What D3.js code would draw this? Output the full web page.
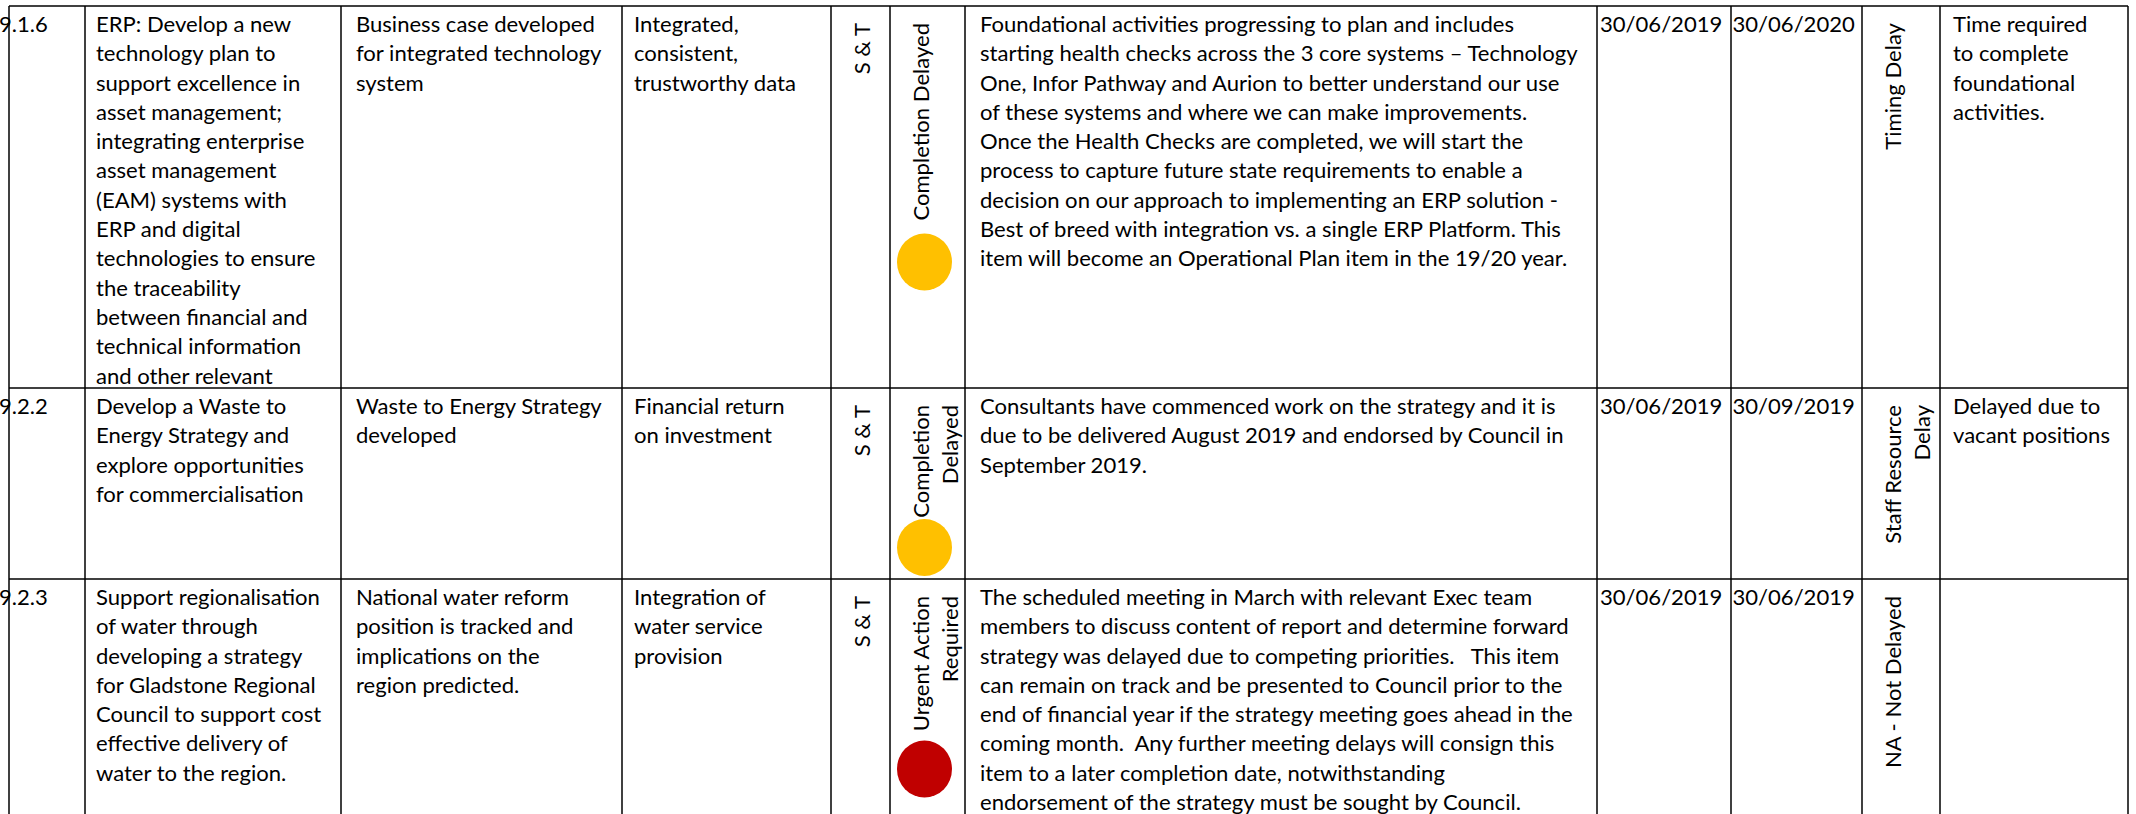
<!DOCTYPE html>
<html><head><meta charset="utf-8">
<script src="https://cdn.jsdelivr.net/npm/d3@7"></script>
<style>html,body{margin:0;padding:0;background:#fff;overflow:hidden}</style>
</head><body>
<svg id="chart" width="2136" height="814"></svg>
<script>
// ---------------- DATA ----------------
const itemIds = ["9.1.6", "9.2.2", "9.2.3"];
const actions = [
  ["ERP: Develop a new","technology plan to","support excellence in","asset management;","integrating enterprise","asset management","(EAM) systems with","ERP and digital","technologies to ensure","the traceability","between financial and","technical information","and other relevant"],
  ["Develop a Waste to","Energy Strategy and","explore opportunities","for commercialisation"],
  ["Support regionalisation","of water through","developing a strategy","for Gladstone Regional","Council to support cost","effective delivery of","water to the region."]
];
const outputs = [
  ["Business case developed","for integrated technology","system"],
  ["Waste to Energy Strategy","developed"],
  ["National water reform","position is tracked and","implications on the","region predicted."]
];
const measures = [
  ["Integrated,","consistent,","trustworthy data"],
  ["Financial return","on investment"],
  ["Integration of","water service","provision"]
];
const owners = ["S & T", "S & T", "S & T"];
const statusLabels = [["Completion Delayed"], ["Completion","Delayed"], ["Urgent Action","Required"]];
const statusLevels = ["amber", "amber", "red"];
const comments = [
  ["Foundational activities progressing to plan and includes","starting health checks across the 3 core systems \u2013 Technology","One, Infor Pathway and Aurion to better understand our use","of these systems and where we can make improvements.","Once the Health Checks are completed, we will start the","process to capture future state requirements to enable a","decision on our approach to implementing an ERP solution -","Best of breed with integration vs. a single ERP Platform. This","item will become an Operational Plan item in the 19/20 year."],
  ["Consultants have commenced work on the strategy and it is","due to be delivered August 2019 and endorsed by Council in","September 2019."],
  ["The scheduled meeting in March with relevant Exec team","members to discuss content of report and determine forward","strategy was delayed due to competing priorities.\u00a0\u00a0 This item","can remain on track and be presented to Council prior to the","end of financial year if the strategy meeting goes ahead in the","coming month.\u00a0 Any further meeting delays will consign this","item to a later completion date, notwithstanding","endorsement of the strategy must be sought by Council."]
];
const dueDates = ["30/06/2019", "30/06/2019", "30/06/2019"];
const revisedDates = ["30/06/2020", "30/09/2019", "30/06/2019"];
const delayReasons = [["Timing Delay"], ["Staff Resource","Delay"], ["NA - Not Delayed"]];
const delayNotes = [["Time required","to complete","foundational","activities."], ["Delayed due to","vacant positions"], []];

// ---------------- LAYOUT ----------------
const W = 2136, H = 814;
const colEdges = [9, 85, 341, 622, 831, 890, 965, 1597, 1731, 1862, 1940, 2128];
const rowEdges = [6, 388, 579, 840];
const textPad = [-10, 11, 15, 12, 0, 0, 15, 3, 1.5, 0, 13];
const circleDy = [256, 159.5, 190];
const statusColor = d3.scaleOrdinal().domain(["amber","red"]).range(["#FFC000","#C00000"]);
const FONT = "Lato, 'Liberation Sans', sans-serif";
const FS = 22;
const LINE = 29.3, FIRST = 26;

const svg = d3.select("#chart");
svg.append("rect").attr("width", W).attr("height", H).attr("fill", "#fff");

const colIdx = d3.range(colEdges.length - 1);
const x = d3.scaleOrdinal().domain(colIdx).range(colEdges.slice(0, -1));
const xr = d3.scaleOrdinal().domain(colIdx).range(colEdges.slice(1));
const rowY = d3.scaleOrdinal().domain(d3.range(itemIds.length)).range(rowEdges.slice(0, -1));

// calibrate font width to the reference (Calibri-like metrics)
const probe = svg.append("text").attr("font-family", FONT).attr("font-size", FS).text("Business case developed");
const sx = 239 / probe.node().getComputedTextLength();
probe.remove();

// grid lines (drawn first so text sits on top)
const grid = svg.append("g").attr("stroke", "#000").attr("stroke-width", 1.5);
grid.selectAll("line.v").data(colEdges).join("line").attr("class", "v")
  .attr("x1", d => d).attr("x2", d => d)
  .attr("y1", rowEdges[0]).attr("y2", H + 10);
grid.selectAll("line.h").data(rowEdges.slice(0, -1)).join("line").attr("class", "h")
  .attr("x1", colEdges[0]).attr("x2", colEdges[colEdges.length - 1])
  .attr("y1", d => d).attr("y2", d => d);

const gText = svg.append("g").attr("font-family", FONT).attr("font-size", FS).attr("fill", "#000");

function block(col, row, lines) {
  const t = gText.append("text")
    .attr("transform", `translate(${x(col) + textPad[col]},${rowY(row) + FIRST}) scale(${sx},1)`);
  t.selectAll("tspan").data(lines).join("tspan")
    .attr("x", 0).attr("y", (d, i) => i * LINE).text(d => d);
}
function vblock(col, row, lines) {
  const t = gText.append("text")
    .attr("text-anchor", "end")
    .attr("transform", `translate(${x(col) + 39},${rowY(row) + 17}) rotate(-90) scale(${sx},1)`);
  t.selectAll("tspan").data(lines).join("tspan")
    .attr("x", 0).attr("y", (d, i) => i * LINE).text(d => d);
}

itemIds.forEach((id, r) => {
  block(0, r, [id]);
  block(1, r, actions[r]);
  block(2, r, outputs[r]);
  block(3, r, measures[r]);
  vblock(4, r, [owners[r]]);
  vblock(5, r, statusLabels[r]);
  block(6, r, comments[r]);
  block(7, r, [dueDates[r]]);
  block(8, r, [revisedDates[r]]);
  vblock(9, r, delayReasons[r]);
  block(10, r, delayNotes[r]);
});

// status circles
svg.append("g").selectAll("ellipse").data(statusLevels).join("ellipse")
  .attr("cx", () => (x(5) + xr(5)) / 2 - 3)
  .attr("cy", (d, i) => rowY(i) + circleDy[i])
  .attr("rx", 27.5).attr("ry", 28.5)
  .attr("fill", d => statusColor(d));
</script>
</body></html>
